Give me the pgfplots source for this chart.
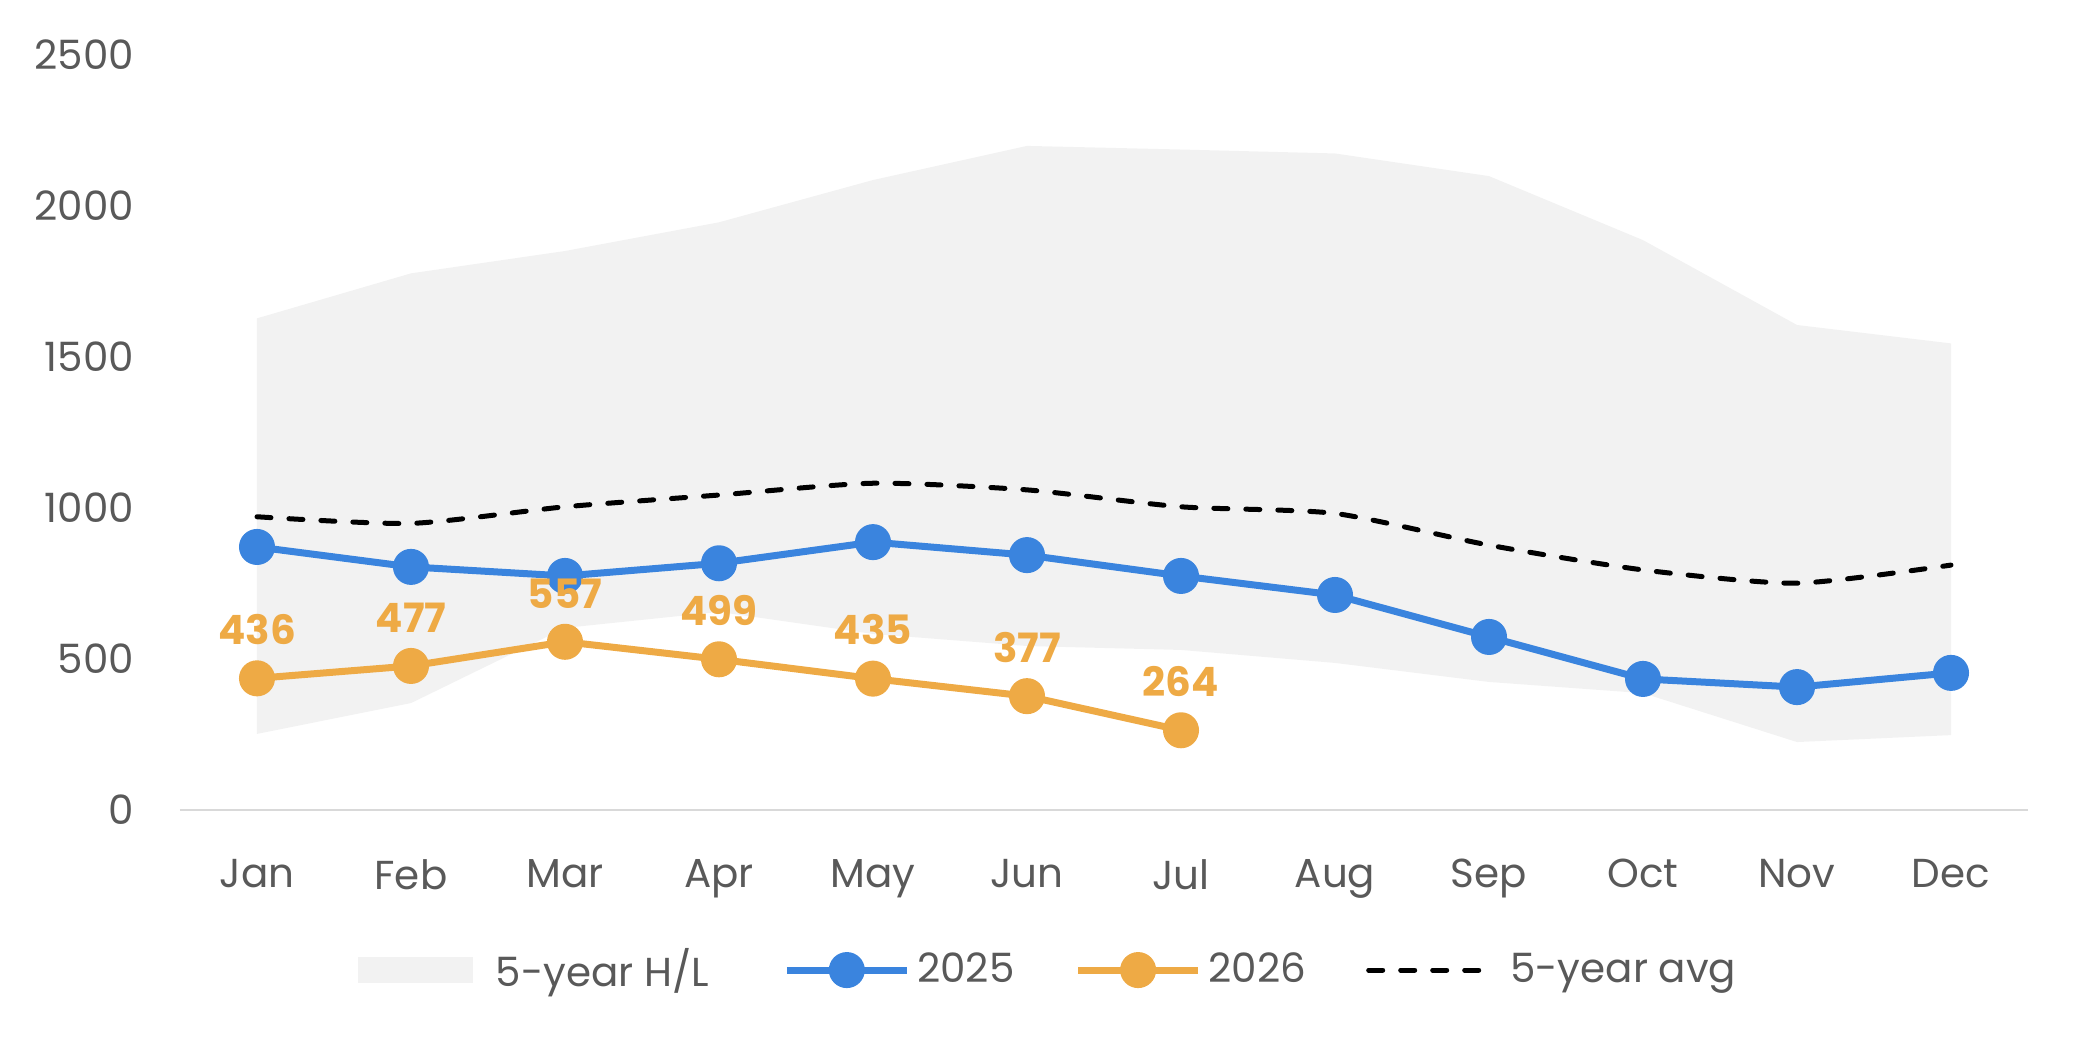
\documentclass[border=0pt]{standalone}
\usepackage{fontspec}
\setmainfont{Poppins}
\usepackage{pgfplots}
\pgfplotsset{compat=1.18}
\definecolor{blueS}{HTML}{3A84DE}
\definecolor{orangeS}{HTML}{EEAA45}
\definecolor{areagray}{HTML}{F2F2F2}
\definecolor{axisgray}{HTML}{D9D9D9}
\definecolor{txt}{HTML}{595959}
\newcommand\f{\fontsize{11.5pt}{13pt}\selectfont}
\begin{document}
\begin{tikzpicture}
\useasboundingbox (-18mm,-22.9mm) rectangle (189.9mm,81mm);
\begin{axis}[
  at={(0,0)}, anchor=south west,
  scale only axis, width=184.8mm, height=75.5mm,
  xmin=-0.5, xmax=11.5, ymin=0, ymax=2500,
  xtick={0,...,11},
  xticklabels={Jan,Feb,Mar,Apr,May,Jun,Jul,Aug,Sep,Oct,Nov,Dec},
  ytick={0,500,...,2500},
  scaled y ticks=false,
  /pgf/number format/assume math mode=true,
  /pgf/number format/1000 sep={},
  axis line style={draw=none},
  major tick length=0pt,
  tick style={draw=none},
  ticklabel style={font=\f, text=txt},
  yticklabel style={xshift=-3.35mm},
  xticklabel style={yshift=-3.7mm},
  clip=false,
  legend columns=4,
  legend cell align=left,
  legend style={draw=none, fill=none, font=\f, text=txt,
    at={(0.4711,-0.212)}, anchor=center,
    /tikz/every even column/.append style={column sep=5.3mm},
    /tikz/every odd column/.append style={column sep=0.0mm}},
  legend image code/.code={\draw[mark repeat=2,mark phase=2,#1] plot coordinates {(0mm,0mm) (6mm,0mm) (12mm,0mm)};},
]
\draw[axisgray, line width=0.27mm] (rel axis cs:0,0) -- (rel axis cs:1,0);
% 5-year high / low band
\addplot[fill=areagray, draw=none,
  legend image code/.code={\fill[areagray] (0mm,-1.3mm) rectangle (11.5mm,1.3mm); \path (13.1mm,0mm);}]
  coordinates {
  (0,1628) (1,1777) (2,1851) (3,1946) (4,2086) (5,2199)
  (6,2187) (7,2174) (8,2099) (9,1887) (10,1606) (11,1545)
  (11,248) (10,225) (9,387) (8,424) (7,487) (6,530)
  (5,543) (4,583) (3,656) (2,603) (1,354) (0,252)
  } -- cycle;
\addlegendentry{5-year H/L\rule{1.4mm}{0pt}}
% 2025
\addplot[blueS, line width=0.7mm, mark=*, mark size=1.45mm, mark options={solid, fill=blueS, draw=none}]
  coordinates {
  (0,871) (1,805) (2,775) (3,817) (4,887) (5,844)
  (6,775) (7,712) (8,573) (9,434) (10,407) (11,454)
  };
\addlegendentry{2025}
% 2026
\addplot[orangeS, line width=0.7mm, mark=*, mark size=1.45mm, mark options={solid, fill=orangeS, draw=none},
  nodes near coords,
  every node near coord/.append style={font=\f\bfseries, text=orangeS, anchor=south, yshift=1.85mm}]
  coordinates {
  (0,436) (1,477) (2,557) (3,499) (4,435) (5,377) (6,264)
  };
\addlegendentry{2026}
% 5-year average
\addplot[black, line width=0.5mm, smooth, tension=0.4, line cap=round, dash pattern=on 1.4mm off 1.8mm,
  legend image code/.code={\draw[black, line width=0.5mm, line cap=round, dash pattern=on 1.4mm off 1.8mm] (0mm,0mm) -- (12mm,0mm); \path (13.2mm,0mm);}]
  coordinates {
  (0,971) (1,949) (2,1004) (3,1043) (4,1082) (5,1060)
  (6,1004) (7,982) (8,877) (9,795) (10,751) (11,811)
  };
\addlegendentry{5-year avg}
\end{axis}
\end{tikzpicture}
\end{document}
